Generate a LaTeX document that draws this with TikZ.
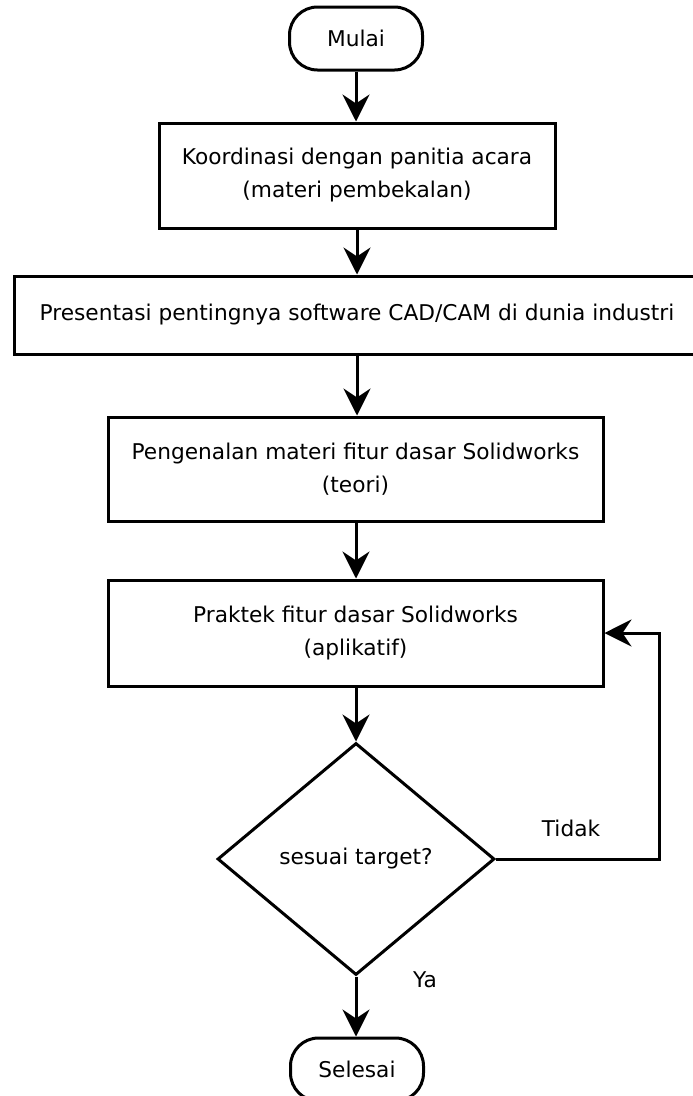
\documentclass[tikz,border=0pt]{standalone}
\usepackage{fontspec}
\setmainfont{DejaVu Sans}
\usetikzlibrary{shapes.geometric,arrows.meta}
\begin{document}
\begin{tikzpicture}[x=1pt,y=-1pt,
  every node/.style={font=\fontsize{21.7}{33}\selectfont, inner sep=0pt},
  term/.style={draw, line width=3pt, rounded corners=28pt, minimum width=133pt, minimum height=63pt},
  procbox/.style={draw, line width=3pt, align=center},
  decis/.style={draw, line width=3pt, diamond, aspect=1.194, minimum width=277pt, minimum height=232pt},
  flow/.style={line width=3pt, -{Stealth[length=27pt,width=27pt,inset=9pt]}},
  lbl/.style={}
]
\useasboundingbox (0,0) rectangle (693,1096);
\clip (0,0) rectangle (693,1096);
\fill[white] (0,0) rectangle (693,1096);

\node[term] (mulai) at (356,38.5) {Mulai};
\node[procbox, minimum width=396pt, minimum height=105pt] (b1) at (357,175.5)
  {Koordinasi dengan panitia acara\\(materi pembekalan)};
\node[procbox, minimum width=686pt, minimum height=78pt] (b2) at (357,315)
  {Presentasi pentingnya software CAD/CAM di dunia industri};
\node[procbox, minimum width=495pt, minimum height=104pt] (b3) at (355.5,469)
  {Pengenalan materi fitur dasar Solidworks\\(teori)};
\node[procbox, minimum width=495pt, minimum height=106pt] (b4) at (355.5,633)
  {Praktek fitur dasar Solidworks\\(aplikatif)};
\node[decis] (d) at (356,859) {sesuai target?};
\node[term] (selesai) at (357,1069.5) {Selesai};

\coordinate (c1) at (659,859);
\coordinate (c2) at (659,633);

\draw[flow] (mulai.south) -- (b1.north -| mulai.south);
\draw[flow] (b1.south) -- (b2.north -| b1.south);
\draw[flow] (b2.south -| b1.south) -- (b3.north -| b1.south);
\draw[flow] (b3.south -| d.north) -- (b4.north -| d.north);
\draw[flow] (b4.south -| d.north) -- (d.north);
\draw[flow] (d.south) -- (selesai.north -| d.south);
\draw[flow] (d.east) -- (c1) -- (c2) -- (b4.east);

\node[lbl] (tidak) at (571,828) {Tidak};
\node[lbl] (ya) at (425,980) {Ya};
\end{tikzpicture}
\end{document}
